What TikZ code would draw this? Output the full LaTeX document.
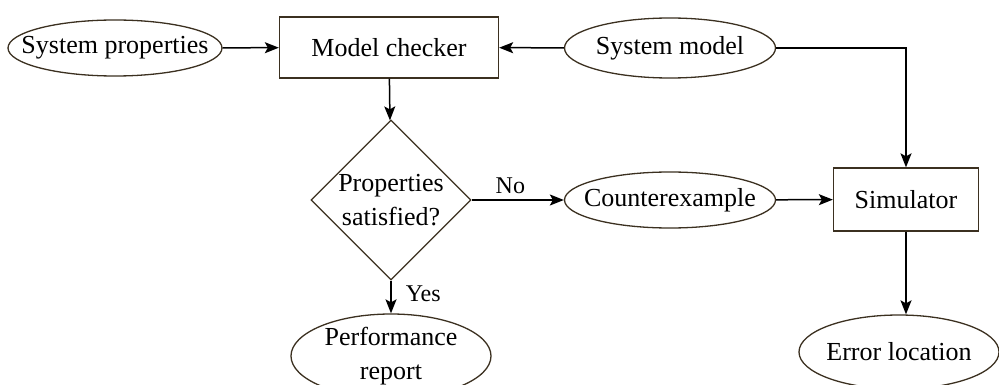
\documentclass[tikz,border=0pt]{standalone}
\usepackage{fontspec}
\setmainfont{Liberation Serif}
\usetikzlibrary{shapes.geometric,arrows.meta}
\definecolor{edge}{HTML}{3B3020}
\begin{document}
\begin{tikzpicture}[x=1pt,y=-1pt,
  every node/.style={font=\fontsize{26}{34}\selectfont, align=center, inner sep=0pt},
  ell/.style={ellipse, draw=edge, line width=1.3pt, minimum width=#1},
  box/.style={rectangle, draw=edge, line width=1.3pt},
  dia/.style={diamond, draw=edge, line width=1.3pt, minimum width=160pt, minimum height=160pt},
  flow/.style={line width=1.5pt, -{Stealth[length=14pt,width=11pt,inset=3pt]}},
  lbl/.style={font=\fontsize{24}{30}\selectfont}]
\useasboundingbox (0,0) rectangle (999,385);

% ellipse outlines are fixed in size; their texts are set on top
\node[ell=214pt, minimum height=56pt] (props) at (115,48) {};
\node at (props) {System properties};
\node[box, minimum width=219pt, minimum height=61pt] (mc) at (389,47.5) {Model checker};
\node[ell=211pt, minimum height=60pt] (model) at (670,48) {};
\node at (model) {System model};
\node[dia] (sat) at (391,200) {Properties\\satisfied?};
\node[ell=211pt, minimum height=56pt] (cex) at (670,200) {};
\node at (cex) {Counterexample};
\node[box, minimum width=145pt, minimum height=63pt] (sim) at (906,199.5) {Simulator};
\node[ell=200pt, minimum height=84pt] (perf) at (391,356) {};
\node at (perf) {Performance\\report};
\node[ell=200pt, minimum height=74pt] (err) at (899,352) {};
\node at (err) {Error location};

\coordinate (corner) at (sim.north |- model.east);

\draw[flow] (props) -- (mc);
\draw[flow] (model) -- (mc);
\draw[flow] (mc) -- (sat);
\draw[flow] (model.east) -- (corner) -- (sim.north);
\draw[flow] (sat.east) -- node[lbl, above=6pt, pos=0.42] {No} (cex.west);
\draw[flow] (cex) -- (sim);
\draw[flow] (sat.south) -- node[lbl, right=14pt, pos=0.4] {Yes} (perf.north);
\draw[flow] (sim.south) -- (sim.south |- err.north);
\end{tikzpicture}
\end{document}
